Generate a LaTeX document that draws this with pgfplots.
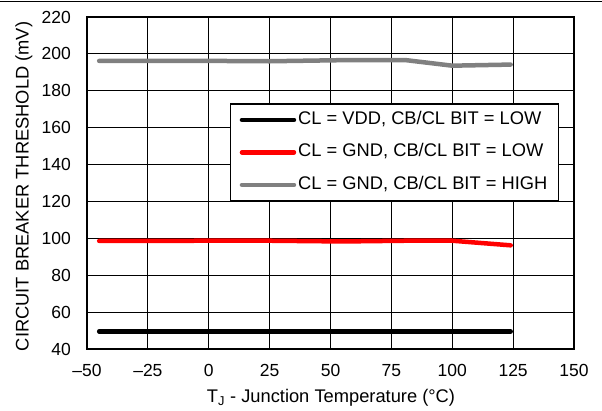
\documentclass[border=0pt]{standalone}
\usepackage{pgfplots}
\pgfplotsset{compat=1.18}
\usepackage{fontspec}
\setmainfont{Liberation Sans}
\begin{document}
\begin{tikzpicture}
\useasboundingbox (0,0) rectangle (602pt,411pt);
\draw[line width=1pt] (0,409pt) -- (602pt,409pt);
\begin{axis}[
  at={(87pt,62pt)}, anchor=south west,
  scale only axis, width=487pt, height=332pt,
  xmin=-50, xmax=150, ymin=40, ymax=220,
  xtick={-50,-25,...,150},
  xticklabels={--50,--25,0,25,50,75,100,125,150},
  ytick={40,60,...,220},
  yticklabels={40,60,80,100,120,140,160,180,200,220},
  major tick length=0pt,
  grid=major,
  major grid style={black, line width=0.8pt},
  axis line style={line width=1.8pt},
  tick label style={font=\fontsize{17.5}{21}\selectfont},
  xticklabel style={anchor=base, inner sep=0pt, yshift=-28pt},
  yticklabel style={anchor=east, inner sep=0pt, xshift=-16pt},
  legend style={at={(0.2936,0.74)}, anchor=north west, draw=black, line width=1.5pt, fill=white,
    font=\fontsize{18.3}{21}\selectfont, inner xsep=9pt, inner ysep=5.5pt, row sep=12pt,
    nodes={inner sep=2pt, text height=12.5pt, text depth=4pt}},
  legend cell align=left,
  legend image code/.code={\draw[#1, line cap=round] (0pt,0pt) -- (52pt,0pt);},
]
\addplot[black, line width=4.5pt, line cap=round] coordinates {
  (-45,49.5) (0,49.5) (25,49.5) (55,49.5) (81,49.5) (100,49.5) (124,49.5)};
\addlegendentry{CL = VDD, CB/CL BIT = LOW}
\addplot[red, line width=4.5pt, line cap=round] coordinates {
  (-45,98.6) (0,98.7) (25,98.7) (55,98.3) (81,98.7) (100,98.7) (124,96.2)};
\addlegendentry{CL = GND, CB/CL BIT = LOW}
\addplot[color={rgb,255:red,128;green,128;blue,128}, line width=4.5pt, line cap=round] coordinates {
  (-45,196.2) (0,196.2) (25,196.0) (55,196.6) (81,196.6) (100,193.6) (124,194.2)};
\addlegendentry{CL = GND, CB/CL BIT = HIGH}
\end{axis}
\node[rotate=90, anchor=base, font=\fontsize{18.3}{21}\selectfont] at (28.7pt,224.5pt) {CIRCUIT BREAKER THRESHOLD (mV)};
\node[anchor=base, font=\fontsize{18.3}{21}\selectfont] at (331pt,8pt) {T\textsubscript{J} - Junction Temperature (°C)};
\end{tikzpicture}
\end{document}
